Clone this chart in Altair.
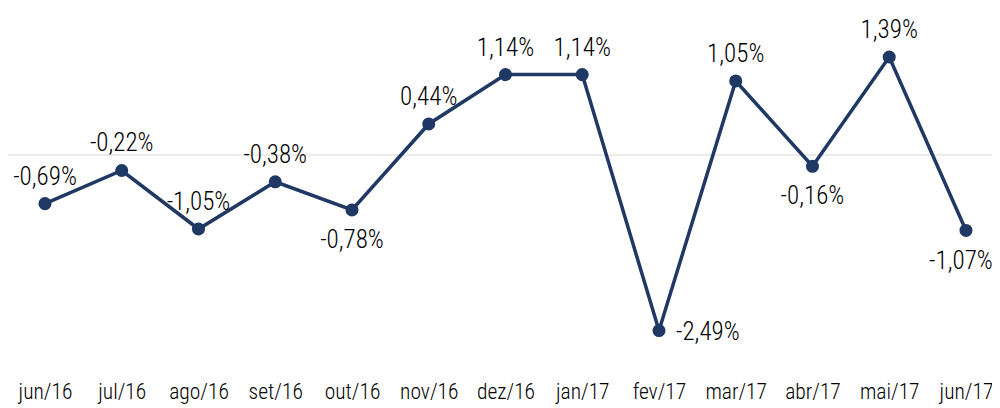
import altair as alt
import pandas as pd

months = ["jun/16", "jul/16", "ago/16", "set/16", "out/16", "nov/16", "dez/16",
          "jan/17", "fev/17", "mar/17", "abr/17", "mai/17", "jun/17"]
values = [-0.69, -0.22, -1.05, -0.38, -0.78, 0.44, 1.14, 1.14, -2.49, 1.05, -0.16, 1.39, -1.07]

# label placement groups
labels_below = ["out/16", "abr/17"]
labels_below_edge = ["jun/17"]
labels_right = ["fev/17"]

df = pd.DataFrame({"idx": list(range(len(months))), "month": months, "value": values})
df["label"] = [f"{v:.2f}%".replace(".", ",") for v in values]


def place(m):
    if m in labels_below:
        return "below"
    if m in labels_below_edge:
        return "below_edge"
    if m in labels_right:
        return "right"
    return "above"


df["place"] = [place(m) for m in months]

NAVY = "#203864"
FONT = "Roboto Condensed"
FS = 25
AXFS = 21.5
FW = {"expr": "350"}

label_expr = "[" + ",".join(f"'{m}'" for m in months) + "][datum.value]"
ydom = [-3.05, 2.085]

x = alt.X("idx:Q",
          scale=alt.Scale(domain=[-0.482, 12.339], nice=False, zero=False),
          axis=alt.Axis(values=list(range(len(months))), labelExpr=label_expr, title=None,
                        domain=False, ticks=False, grid=False, labelFontSize=AXFS,
                        labelFont=FONT, labelFontWeight=FW, labelColor="#000000", labelPadding=11,
                        labelOverlap=False, labelFlush=False))
y = alt.Y("value:Q", scale=alt.Scale(domain=ydom, nice=False, zero=False), axis=None)

base = alt.Chart(df)

zero = alt.Chart(pd.DataFrame({"z": [0]})).mark_rule(color="#d9d9d9", strokeWidth=1).encode(
    y=alt.Y("z:Q", scale=alt.Scale(domain=ydom, nice=False, zero=False), axis=None))

line = base.mark_line(color=NAVY, strokeWidth=3.5).encode(x=x, y=y)
pts = base.mark_circle(color=NAVY, size=170, opacity=1).encode(x=x, y=y)

txt_kw = dict(fontSize=FS, font=FONT, fontWeight=FW, color="#000000")
txt_above = base.transform_filter("datum.place == 'above'").mark_text(
    dy=-27, **txt_kw).encode(x=x, y=y, text="label:N")
txt_below = base.transform_filter("datum.place == 'below'").mark_text(
    dy=30, **txt_kw).encode(x=x, y=y, text="label:N")
txt_below_edge = base.transform_filter("datum.place == 'below_edge'").mark_text(
    dy=31, dx=-5, **txt_kw).encode(x=x, y=y, text="label:N")
txt_right = base.transform_filter("datum.place == 'right'").mark_text(
    align="left", dx=17, dy=1, **txt_kw).encode(x=x, y=y, text="label:N")

chart = alt.layer(zero, line, pts, txt_above, txt_below, txt_below_edge, txt_right).properties(
    width=984, height=362,
    autosize=alt.AutoSizeParams(type="none"),
    padding={"left": 0, "top": 0, "right": 0, "bottom": 36},
).configure_view(stroke=None)

chart.save("out.html", embed_options={"renderer": "svg", "actions": False})
